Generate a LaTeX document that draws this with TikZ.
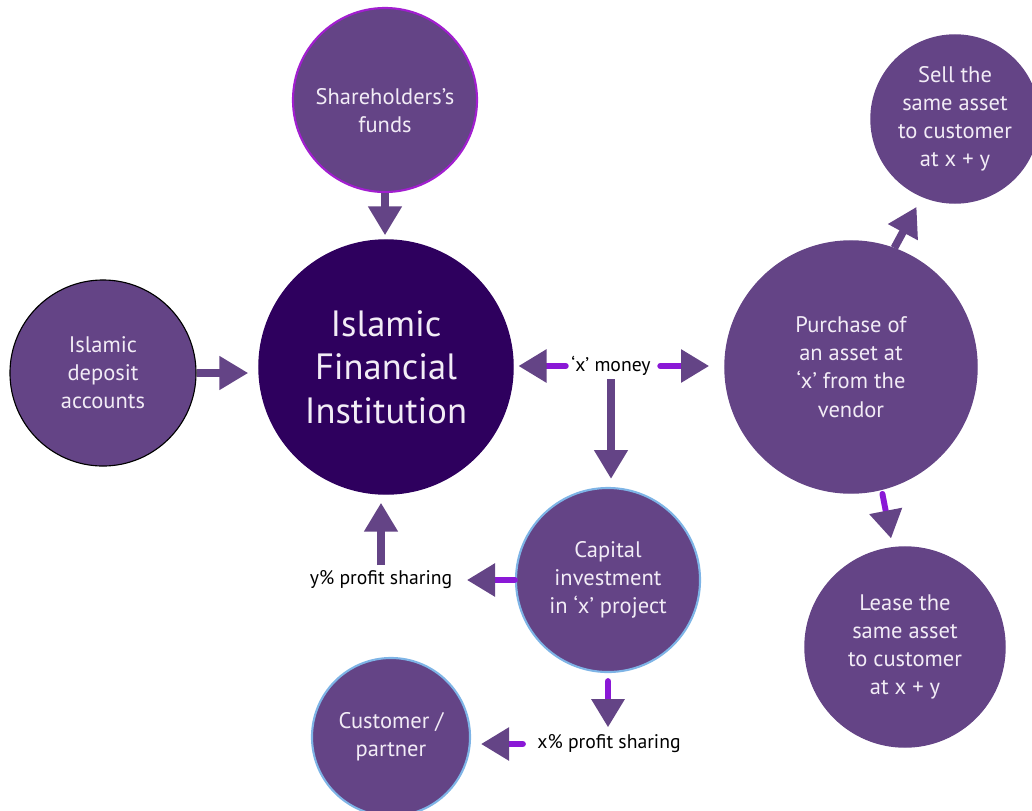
\documentclass[tikz,border=0pt]{standalone}
\usepackage{fontspec}
\setmainfont{PT Sans}
\usetikzlibrary{arrows.meta}
\definecolor{bubblepurple}{RGB}{100,68,134}
\definecolor{deeppurple}{RGB}{46,0,94}
\definecolor{brightviolet}{RGB}{138,24,214}
\definecolor{rimviolet}{RGB}{162,30,208}
\definecolor{rimblue}{RGB}{126,180,230}
\definecolor{bubbletext}{RGB}{242,236,246}
\begin{document}
\begin{tikzpicture}[x=0.025cm, y=-0.025cm,
    bubble/.style={circle, fill=bubblepurple, draw=bubblepurple, line width=1pt,
        inner sep=0pt, align=center, text=bubbletext, font=\fontsize{16}{20}\selectfont},
    lbl/.style={font=\fontsize{14}{17}\selectfont, inner sep=1pt},
    flowarrow/.style={line width=5.5pt, draw=bubblepurple,
        -{Triangle[width=0.8cm, length=0.72cm, color=bubblepurple]}},
    flowbright/.style={line width=4.2pt, draw=brightviolet, line cap=round,
        -{Triangle[width=0.8cm, length=0.7cm, color=bubblepurple]}}]
    \useasboundingbox (0,0) rectangle (1032,810);

    % circles
    \node[bubble, minimum size=6.35cm, fill=deeppurple, draw=deeppurple,
        font=\fontsize{26}{31}\selectfont] (ifi) at (386,367) {Islamic\\Financial\\Institution};
    \node[bubble, minimum size=4.6cm, draw=rimviolet, line width=1.5pt,
        label={[text=bubbletext, align=center, font=\fontsize{16}{20}\selectfont, yshift=-0.27cm]center:Shareholders's\\funds}] (share) at (385,100) {};
    \node[bubble, minimum size=4.65cm, draw=black, line width=0.8pt] (deposit) at (103,373) {Islamic\\deposit\\accounts};
    \node[bubble, minimum size=6.3cm] (purchase) at (851,367) {Purchase of\\an asset at\\`x' from the\\vendor};
    \node[bubble, minimum size=4.2cm] (sell) at (955,119) {Sell the\\same asset\\to customer\\at x + y};
    \node[bubble, minimum size=5cm] (lease) at (905,647) {Lease the\\same asset\\to customer\\at x + y};
    \node[bubble, minimum size=4.6cm, draw=rimblue, line width=1.5pt] (capital) at (608,580) {Capital\\investment\\in `x' project};
    \node[bubble, minimum size=3.95cm, draw=rimblue, line width=1.5pt] (customer) at (391,737) {Customer /\\partner};

    % labels
    \node[lbl] (xmoney) at (611,366) {`x' money};
    \node[lbl] (yprofit) at (381,580) {y\% profit sharing};
    \node[lbl] (xprofit) at (609,744) {x\% profit sharing};

    % arrows
    \draw[flowarrow, shorten >=0.1cm] (share.south) -- (share.south |- ifi.north);
    \draw[flowarrow, shorten >=0.25cm] (deposit.east) -- (deposit.east -| ifi.west);
    \draw[flowbright, shorten <=0.1cm, shorten >=0.12cm] (xmoney.west) -- (xmoney.west -| ifi.east);
    \draw[flowbright, shorten <=0.2cm, shorten >=0.38cm] (xmoney.east) -- (xmoney.east -| purchase.west);
    \draw[flowarrow, shorten <=0.05cm, shorten >=0.2cm] (xmoney.south) -- (xmoney.south |- capital.north);
    \draw[flowbright, shorten >=0.33cm] (capital.west) -- (capital.west -| yprofit.east);
    \draw[flowarrow, shorten <=0.1cm, shorten >=0.2cm] (yprofit.north) -- (yprofit.north |- ifi.south);
    \draw[flowbright, shorten <=0.2cm, shorten >=0.15cm] (capital.south) -- (capital.south |- xprofit.north);
    \draw[flowbright, shorten <=0.32cm, shorten >=0.25cm] (xprofit.west) -- (xprofit.west -| customer.east);
    \draw[flowarrow, shorten >=0.28cm] (purchase.70) -- (sell.247);
    \draw[flowbright, shorten <=0.1cm, shorten >=0.22cm] (purchase.-76) -- (lease.97);
\end{tikzpicture}
\end{document}
